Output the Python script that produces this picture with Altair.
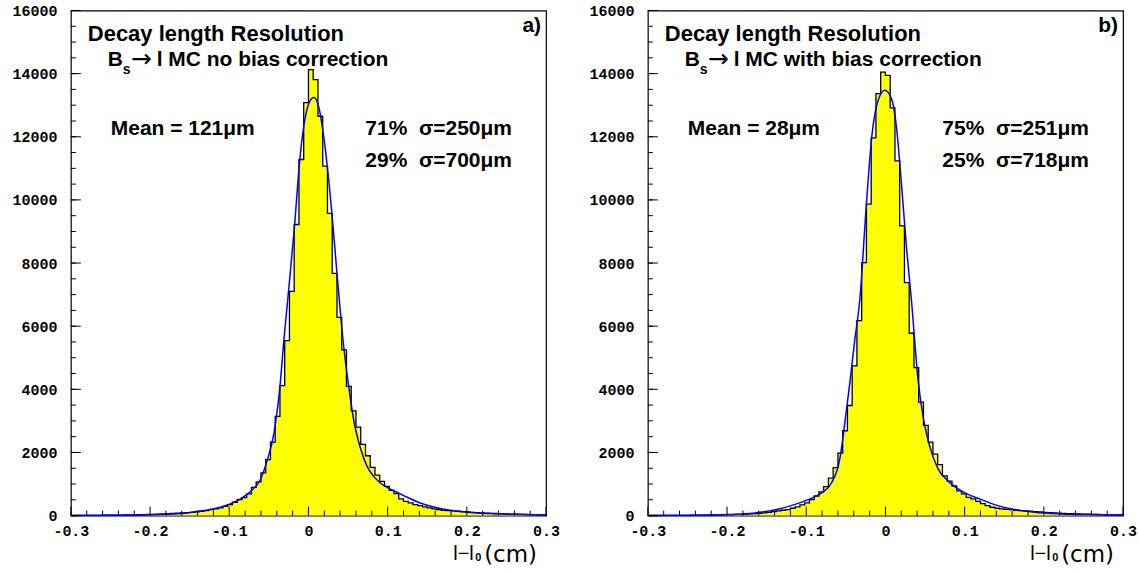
import altair as alt
import pandas as pd

# ---------------- data ----------------
BIN_START = -0.3
BIN_WIDTH = 0.006
X_MIN, X_MAX = -0.3, 0.3
Y_MIN, Y_MAX = 0, 16000

COUNTS_A = [3, 4, 5, 6, 7, 8, 10, 11, 13, 15,
            17, 19, 22, 25, 28, 32, 36, 40, 46, 52,
            58, 66, 74, 84, 95, 105, 116, 137, 158, 190,
            211, 242, 295, 348, 422, 506, 570, 690, 895, 1065,
            1350, 1770, 2330, 3140, 4120, 5545, 7100, 9220, 11280, 13080,
            14125, 13810, 12650, 11070, 9570, 7675, 6280, 5250, 4090, 3320,
            2800, 2255, 1895, 1530, 1280, 1085, 928, 801, 696, 527,
            453, 400, 348, 316, 274, 242, 211, 190, 169, 158,
            148, 137, 127, 116, 105, 95, 88, 80, 72, 66,
            60, 54, 48, 44, 40, 36, 32, 28, 25, 22]

COUNTS_B = [3, 3, 4, 5, 6, 7, 8, 9, 10, 11,
            13, 15, 17, 19, 22, 25, 28, 32, 36, 40,
            46, 53, 63, 74, 84, 105, 126, 148, 169, 190,
            232, 274, 337, 400, 506, 620, 750, 915, 1185, 1520,
            1981, 2688, 3488, 4743, 6176, 8010, 9866, 11962, 13365, 14050,
            13945, 12912, 11236, 9180, 7378, 5776, 4690, 3594, 2856, 2330,
            1950, 1612, 1255, 1095, 938, 780, 685, 580, 527, 453,
            379, 316, 264, 232, 211, 200, 190, 169, 158, 148,
            137, 126, 116, 105, 95, 86, 78, 71, 64, 58,
            52, 47, 42, 38, 34, 30, 27, 24, 21, 19]

CURVE_A_X = [-0.30, -0.25, -0.20, -0.16, -0.136, -0.107, -0.0858, -0.073, -0.0605,
             -0.052, -0.0437, -0.036, -0.031, -0.0248, -0.0177, -0.011, -0.006,
             0.0004, 0.0067, 0.013, 0.0193, 0.0243, 0.030, 0.036, 0.0445, 0.0508,
             0.0571, 0.0656, 0.074, 0.0824, 0.0908, 0.0992, 0.1118, 0.1245, 0.1412,
             0.158, 0.179, 0.20, 0.23, 0.26, 0.30]
CURVE_A_Y = [4, 12, 30, 63, 147, 295, 530, 770, 1150,
             1760, 2600, 4090, 5565, 7200, 9150, 11257, 12310,
             13050, 13240, 12943, 11994, 10940, 9464, 7675, 5355, 4090,
             3035, 2140, 1560, 1243, 1033, 896, 738, 580, 400,
             274, 169, 105, 63, 40, 22]

CURVE_B_X = [-0.30, -0.232, -0.199, -0.165, -0.136, -0.115, -0.0975, -0.0807, -0.068,
             -0.0576, -0.0513, -0.045, -0.0387, -0.0324, -0.024, -0.0177, -0.0092,
             -0.0008, 0.0076, 0.0139, 0.0202, 0.0265, 0.0328, 0.0412, 0.0475, 0.0559,
             0.0664, 0.079, 0.0958, 0.121, 0.1418, 0.163, 0.188, 0.222, 0.26, 0.30]
CURVE_B_Y = [5, 11, 32, 84, 200, 348, 506, 717, 1040,
             1800, 2931, 4195, 5565, 6830, 9888, 11890, 13154,
             13470, 13208, 12310, 10520, 8516, 6830, 4300, 3140, 2192,
             1480, 1100, 780, 506, 316, 190, 105, 53, 32, 20]

X_LABEL_TICKS = [-0.3, -0.2, -0.1, 0.0, 0.1, 0.2, 0.3]
X_MINOR_TICKS = [-0.28, -0.26, -0.24, -0.22, -0.18, -0.16, -0.14, -0.12,
                 -0.08, -0.06, -0.04, -0.02, 0.02, 0.04, 0.06, 0.08,
                 0.12, 0.14, 0.16, 0.18, 0.22, 0.24, 0.26, 0.28]
Y_LABEL_TICKS = [0, 2000, 4000, 6000, 8000, 10000, 12000, 14000, 16000]
Y_MINOR_STEP = 500

TITLE_LINE = "Decay length Resolution"
NBSP = "\u00a0"
PANEL_A_TEXT = {"proc": "l MC no bias correction", "mean": "Mean = 121\u03bcm",
                "g1": "71%" + NBSP + NBSP + "\u03c3=250\u03bcm",
                "g2": "29%" + NBSP + NBSP + "\u03c3=700\u03bcm", "tag": "a)"}
PANEL_B_TEXT = {"proc": "l MC with bias correction", "mean": "Mean = 28\u03bcm",
                "g1": "75%" + NBSP + NBSP + "\u03c3=251\u03bcm",
                "g2": "25%" + NBSP + NBSP + "\u03c3=718\u03bcm", "tag": "b)"}

# ---------------- styling ----------------
W, H = 476, 506
SANS = "Liberation Sans"
MONO = "Liberation Mono"
TXT = 21
TICK_FS = 15

xs = alt.Scale(domain=[X_MIN, X_MAX], nice=False, zero=False)
ys = alt.Scale(domain=[Y_MIN, Y_MAX], nice=False)

x_axis = alt.Axis(values=X_LABEL_TICKS, title=None, ticks=False, domain=False,
                  grid=False, labelFont=MONO, labelFontWeight="bold", labelFontSize=TICK_FS,
                  labelColor="black", labelPadding=8, labelFlush=False, labelOverlap=False,
                  labelExpr="datum.value == 0 ? '0' : (datum.value < 0 ? '-' : '') + format(abs(datum.value), '.1f')")
y_axis = alt.Axis(values=Y_LABEL_TICKS, title=None, ticks=False, domain=False,
                  grid=False, labelFont=MONO, labelFontWeight="bold", labelFontSize=TICK_FS,
                  labelColor="black", labelPadding=14, format="d", labelOverlap=False,
                  minExtent=65, maxExtent=65)


def txt(s, x, y, size=TXT, weight="bold", font=SANS, align="left"):
    return alt.Chart(pd.DataFrame({"s": [s]})).mark_text(
        align=align, baseline="alphabetic", font=font, fontSize=size,
        fontWeight=weight, color="black"
    ).encode(text="s:N", x=alt.value(x), y=alt.value(y))


def panel(counts, cx, cy, texts):
    lo = [round(BIN_START + BIN_WIDTH * i, 4) for i in range(len(counts))]
    step = pd.DataFrame({"x": lo + [X_MAX], "n": counts + [counts[-1]]})
    curve = pd.DataFrame({"x": cx, "y": cy})

    X = lambda f: alt.X(f, scale=xs, axis=x_axis)
    Y = lambda f: alt.Y(f, scale=ys, axis=y_axis)

    fill = alt.Chart(step).mark_area(interpolate="step-after", color="#ffff00", opacity=1).encode(
        x=X("x:Q"), y=Y("n:Q"))
    outline = alt.Chart(step).mark_line(interpolate="step-after", color="black", strokeWidth=1.3).encode(
        x=X("x:Q"), y=Y("n:Q"))
    fit = alt.Chart(curve).mark_line(interpolate="monotone", color="#0000ff", strokeWidth=1.5).encode(
        x=X("x:Q"), y=Y("y:Q"))
    xminor = alt.Chart(pd.DataFrame({"x": X_MINOR_TICKS})).mark_rule(color="black").encode(
        x=X("x:Q"), y=alt.value(H), y2=alt.value(H - 5))
    xmajor = alt.Chart(pd.DataFrame({"x": X_LABEL_TICKS})).mark_rule(color="black").encode(
        x=X("x:Q"), y=alt.value(H), y2=alt.value(H - 9))
    yminor = alt.Chart(pd.DataFrame({"n": list(range(Y_MIN, Y_MAX + 1, Y_MINOR_STEP))})).mark_rule(color="black").encode(
        y=Y("n:Q"), x=alt.value(0), x2=alt.value(5))
    ymajor = alt.Chart(pd.DataFrame({"n": Y_LABEL_TICKS})).mark_rule(color="black").encode(
        y=Y("n:Q"), x=alt.value(0), x2=alt.value(10))

    labels = [
        txt(TITLE_LINE, 17, 31, size=22),
        txt("B", 37, 56),
        txt("s", 52, 64, size=14),
        txt("\u2192", 60, 57, size=25, weight="normal", font="DejaVu Sans"),
        txt(texts["proc"], 86, 56),
        txt(texts["mean"], 40, 125),
        txt(texts["g1"], 295, 125),
        txt(texts["g2"], 295, 157),
        txt(texts["tag"], 471, 22, align="right"),
        txt("l\u2212l", 383, 550, size=20, weight="normal"),
        txt("0", 405, 551, size=11),
        txt("(cm)", 414, 552, size=23, weight="normal", font="DejaVu Sans"),
    ]
    return alt.layer(fill, outline, fit, xminor, xmajor, yminor, ymajor, *labels).properties(
        width=W, height=H)


pa = panel(COUNTS_A, CURVE_A_X, CURVE_A_Y, PANEL_A_TEXT)
pb = panel(COUNTS_B, CURVE_B_X, CURVE_B_Y, PANEL_B_TEXT)

chart = alt.hconcat(pa, pb, spacing=21).properties(
    padding={"left": 5, "top": 2, "right": 0, "bottom": 0},
    background="white",
).configure_view(stroke="black", strokeWidth=1.2)

chart.save("out.html", embed_options={"renderer": "svg", "actions": False})
